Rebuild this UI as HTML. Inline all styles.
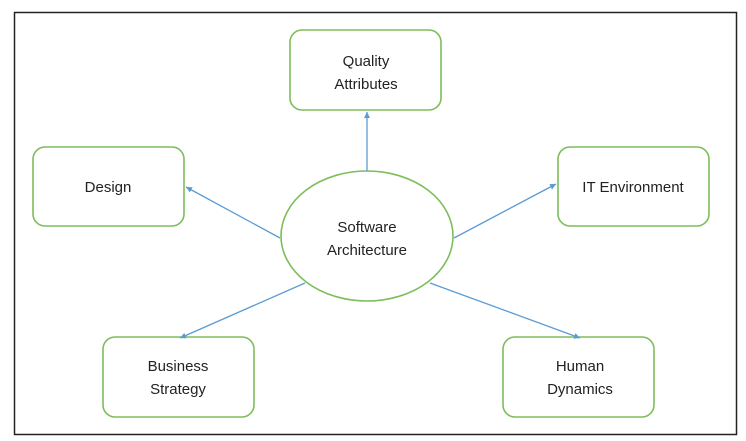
<!DOCTYPE html>
<html><head><meta charset="utf-8"><style>
html,body{margin:0;padding:0;background:#fff;}
svg{display:block;}
text{font-family:"Liberation Sans",sans-serif;font-size:15px;fill:#222;text-anchor:middle;}
</style></head><body>
<svg width="746" height="441" viewBox="0 0 746 441" xmlns="http://www.w3.org/2000/svg">
<defs><marker id="a" markerWidth="8" markerHeight="8" refX="6" refY="3" orient="auto" markerUnits="userSpaceOnUse"><path d="M0,0 L6,3 L0,6 z" fill="#5b9bd5"/></marker></defs>
<rect x="14.5" y="12.5" width="722" height="422" fill="#fff" stroke="#222" stroke-width="1.5"/>
<g fill="#fff" stroke="#7dbd5a" stroke-width="1.6">
<rect x="290" y="30" width="151" height="80" rx="12"/>
<rect x="33" y="147" width="151" height="79" rx="12"/>
<rect x="558" y="147" width="151" height="79" rx="12"/>
<rect x="103" y="337" width="151" height="80" rx="12"/>
<rect x="503" y="337" width="151" height="80" rx="12"/>
<ellipse cx="367" cy="236" rx="86" ry="65"/>
</g>
<g stroke="#5b9bd5" stroke-width="1.3" marker-end="url(#a)">
<line x1="367" y1="171" x2="367" y2="112"/>
<line x1="280" y1="238" x2="186" y2="187"/>
<line x1="454" y1="238" x2="556" y2="184"/>
<line x1="305" y1="283" x2="180" y2="338"/>
<line x1="430" y1="283" x2="580" y2="338"/>
</g>
<text x="366" y="66">Quality</text>
<text x="366" y="89">Attributes</text>
<text x="108" y="192">Design</text>
<text x="633" y="192">IT Environment</text>
<text x="367" y="232">Software</text>
<text x="367" y="255">Architecture</text>
<text x="178" y="371">Business</text>
<text x="178" y="394">Strategy</text>
<text x="580" y="371">Human</text>
<text x="580" y="394">Dynamics</text>
</svg>
</body></html>
